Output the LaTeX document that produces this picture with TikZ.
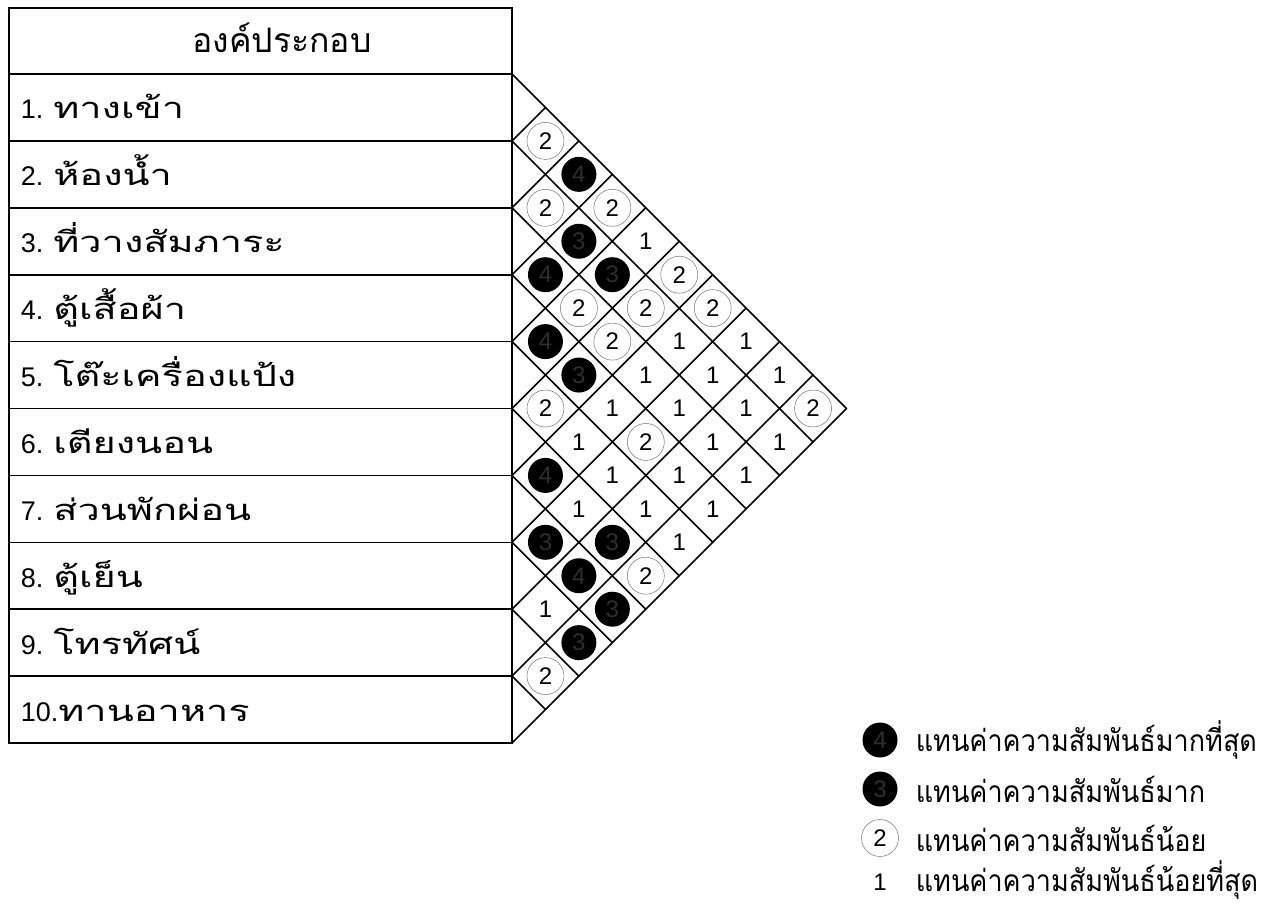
\documentclass[tikz,border=0pt]{standalone}
\usepackage{fontspec}
\setmainfont{Liberation Sans}
\newfontfamily\thaifont[Script=Thai,Scale=1.08,FakeStretch=1.36]{Loma}
\newfontfamily\thaihead[Script=Thai,Scale=1.25]{Loma}
\newfontfamily\thaileg[Script=Thai,Scale=1.25,FakeStretch=0.9]{Loma}
\begin{document}
\begin{tikzpicture}[x=1pt,y=-1pt,line width=1.6pt,line cap=round,
  txt/.style={inner sep=0pt,font=\fontsize{24}{28}\selectfont},
  lbl/.style={inner sep=0pt,font=\fontsize{27}{31}\selectfont,anchor=base west},
  weak/.style={txt,circle,draw=black!55,line width=0.5pt,minimum size=37pt},
  strong/.style={txt,circle,fill=black,minimum size=35pt,text=black!82},
  least/.style={txt}]
\useasboundingbox (0,0) rectangle (1276,904);
% table
\draw (9,8) rectangle (512,743);
\foreach \k in {0,...,9} {
  \pgfmathsetmacro\yk{74+66.9*\k}
  \draw (9,\yk) -- (512,\yk);
}
\node[lbl,anchor=base,font=\fontsize{27}{31}\selectfont] (head) at (282,53) {\thaihead องค์ประกอบ};
\foreach \i/\t in {1/ทางเข้า,2/ห้องน้ำ,3/ที่วางสัมภาระ,4/ตู้เสื้อผ้า,5/โต๊ะเครื่องแป้ง,6/เตียงนอน,7/ส่วนพักผ่อน,8/ตู้เย็น,9/โทรทัศน์} {
  \pgfmathsetmacro\yb{74+66.9*(\i-1)+45}
  \node[lbl] (r\i) at (20,\yb) {\i. {\thaifont \t}};
}
\pgfmathsetmacro\yb{74+66.9*9+45}
\node[lbl] (r10) at (20,\yb) {10.{\thaifont ทานอาหาร}};
% diamond grid
\foreach \k in {0,...,10} {
  \pgfmathsetmacro\yk{74+66.9*\k}
  \pgfmathsetmacro\td{(743-\yk)/2}
  \pgfmathsetmacro\tu{(\yk-74)/2}
  \ifnum\k<10 \draw (512,\yk) -- ++(\td,\td); \fi
  \ifnum\k>0 \draw (512,\yk) -- ++(\tu,-\tu); \fi
}
% cells
\foreach \i/\j/\s/\n in {1/2/weak/2,1/3/strong/4,2/3/weak/2,1/4/weak/2,2/4/strong/3,1/5/least/1,
  3/4/strong/4,2/5/strong/3,1/6/weak/2,3/5/weak/2,2/6/weak/2,1/7/weak/2,
  4/5/strong/4,3/6/weak/2,2/7/least/1,1/8/least/1,4/6/strong/3,3/7/least/1,2/8/least/1,1/9/least/1,
  5/6/weak/2,4/7/least/1,3/8/least/1,2/9/least/1,1/10/weak/2,
  5/7/least/1,4/8/weak/2,3/9/least/1,2/10/least/1,
  6/7/strong/4,5/8/least/1,4/9/least/1,3/10/least/1,
  6/8/least/1,5/9/least/1,4/10/least/1,
  7/8/strong/3,6/9/strong/3,5/10/least/1,
  7/9/strong/4,6/10/weak/2,8/9/least/1,7/10/strong/3,8/10/strong/3,9/10/weak/2} {
  \pgfmathsetmacro\cx{512+33.45*(\j-\i)}
  \pgfmathsetmacro\cy{74+33.45*(\i+\j-1)}
  \node[\s] (c\i-\j) at (\cx,\cy) {\n};
}
% legend
\node[strong] (k4) at (880,740) {4};
\node[strong] (k3) at (880,789) {3};
\node[weak] (k2) at (880,838) {2};
\node[least] (k1) at (880,882) {1};
\node[txt,anchor=west] (t4) at (915,740) {\thaileg แทนค่าความสัมพันธ์มากที่สุด};
\node[txt,anchor=west] (t3) at (915,789) {\thaileg แทนค่าความสัมพันธ์มาก};
\node[txt,anchor=west] (t2) at (915,838) {\thaileg แทนค่าความสัมพันธ์น้อย};
\node[txt,anchor=west] (t1) at (915,880) {\thaileg แทนค่าความสัมพันธ์น้อยที่สุด};
\end{tikzpicture}
\end{document}
